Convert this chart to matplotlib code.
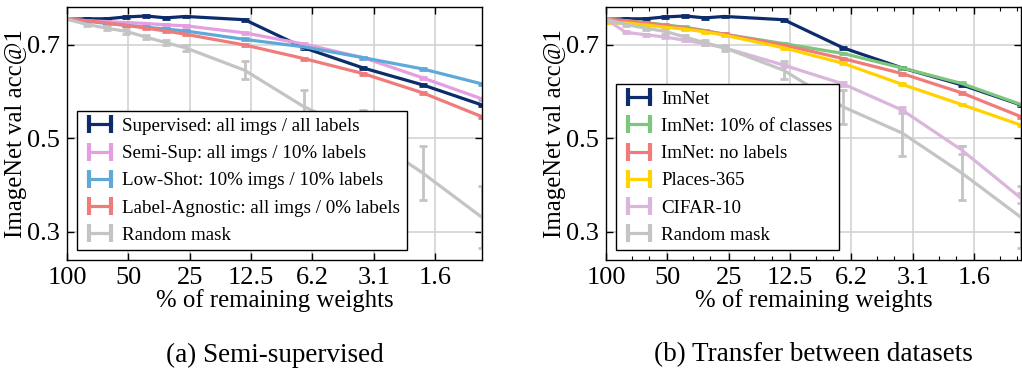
import numpy as np
import matplotlib
matplotlib.use("Agg")
import matplotlib.pyplot as plt
from matplotlib.ticker import FixedLocator, NullFormatter
from matplotlib.lines import Line2D

plt.rcParams['font.family'] = ['Liberation Serif', 'DejaVu Serif']
plt.rcParams['mathtext.fontset'] = 'stix'

# % of remaining weights at each pruning round
pct = [100, 80, 64, 51.2, 40.96, 32.77, 26.21, 13.42, 6.87, 3.52, 1.80, 0.92]

sup = [0.754, 0.755, 0.755, 0.759, 0.761, 0.757, 0.760, 0.753, 0.693, 0.650, 0.614, 0.571]
semi = [0.754, 0.751, 0.749, 0.747, 0.745, 0.742, 0.740, 0.725, 0.701, 0.672, 0.629, 0.584]
low = [0.754, 0.750, 0.745, 0.741, 0.737, 0.733, 0.729, 0.711, 0.695, 0.672, 0.648, 0.616]
agn = [0.754, 0.751, 0.746, 0.741, 0.735, 0.729, 0.722, 0.699, 0.670, 0.638, 0.597, 0.546]
rnd = [0.754, 0.743, 0.735, 0.728, 0.716, 0.704, 0.693, 0.645, 0.567, 0.511, 0.426, 0.331]
rnd_err = [0.0, 0.003, 0.004, 0.005, 0.005, 0.006, 0.007, 0.019, 0.037, 0.049, 0.058, 0.066]

cls10 = [0.754, 0.751, 0.747, 0.742, 0.737, 0.730, 0.722, 0.702, 0.681, 0.650, 0.617, 0.572]
places = [0.745, 0.746, 0.742, 0.737, 0.733, 0.727, 0.720, 0.693, 0.660, 0.615, 0.572, 0.528]
cifar = [0.754, 0.726, 0.721, 0.716, 0.709, 0.702, 0.693, 0.656, 0.616, 0.560, 0.475, 0.372]
cifar_err = [0.0, 0.002, 0.002, 0.002, 0.002, 0.002, 0.003, 0.003, 0.004, 0.006, 0.008, 0.010]

small_err = [0.0, 0.002, 0.002, 0.002, 0.002, 0.002, 0.002, 0.002, 0.002, 0.002, 0.002, 0.002]

tick_pos = [100, 50, 25, 12.5, 6.25, 3.125, 1.5625]
tick_lab = ['100', '50', '25', '12.5', '6.2', '3.1', '1.6']

left_series = [
    (sup, small_err, '#0d2c6c', 'Supervised: all imgs / all labels'),
    (semi, small_err, '#e39fe0', 'Semi-Sup: all imgs / 10% labels'),
    (low, small_err, '#5fa9d8', 'Low-Shot: 10% imgs / 10% labels'),
    (agn, small_err, '#f07b7b', 'Label-Agnostic: all imgs / 0% labels'),
    (rnd, rnd_err, '#c4c4c4', 'Random mask'),
]
right_series = [
    (sup, small_err, '#0d2c6c', 'ImNet'),
    (cls10, small_err, '#7cc77c', 'ImNet: 10% of classes'),
    (agn, small_err, '#f07b7b', 'ImNet: no labels'),
    (places, small_err, '#ffd200', 'Places-365'),
    (cifar, cifar_err, '#dab6dc', 'CIFAR-10'),
    (rnd, rnd_err, '#c4c4c4', 'Random mask'),
]

fig = plt.figure(figsize=(10.22, 3.73), dpi=100)
ax1 = fig.add_axes([0.0656, 0.303, 0.406, 0.678])
ax2 = fig.add_axes([0.593, 0.303, 0.406, 0.678])


def draw(ax, series, minor):
    handles = []
    for y, e, c, lab in series:
        ax.errorbar(pct, y, yerr=e, color=c, lw=2.3, capsize=3, capthick=2,
                    elinewidth=2)
        handles.append(Line2D([], [], color=c, lw=2.3, marker='|',
                              markersize=13, markeredgewidth=3, label=lab))
    ax.set_xscale('log', base=2)
    ax.set_xlim(100, 0.92)
    ax.set_ylim(0.24, 0.78)
    ax.xaxis.set_major_locator(FixedLocator(tick_pos))
    ax.set_xticklabels(tick_lab)
    if minor:
        mpos = []
        for t in tick_pos:
            mpos += [t * 2 ** -0.42, t * 2 ** -0.70]
        ax.xaxis.set_minor_locator(FixedLocator(mpos))
    else:
        ax.xaxis.set_minor_locator(FixedLocator([]))
    ax.xaxis.set_minor_formatter(NullFormatter())
    ax.set_yticks([0.3, 0.5, 0.7])
    ax.set_yticklabels(['0.3', '0.5', '0.7'])
    ax.grid(True, which='major', color='#d0d0d0', lw=1.1)
    ax.set_axisbelow(True)
    ax.tick_params(which='both', direction='in', top=True, right=True,
                   labelsize=19, pad=5)
    ax.tick_params(which='major', length=5, width=1)
    ax.tick_params(which='minor', length=3, width=0.8)
    for s in ax.spines.values():
        s.set_linewidth(1.0)
    ax.set_xlabel('% of remaining weights', fontsize=17.8, labelpad=0)
    ax.set_ylabel('ImageNet val acc@1', fontsize=17.8, labelpad=0)
    leg = ax.legend(handles=handles, loc='lower left', fontsize=13.7,
                    fancybox=False, edgecolor='black', framealpha=1,
                    handlelength=1.75, handletextpad=0.3, labelspacing=0.52,
                    borderpad=0.35, numpoints=2)
    leg.get_frame().set_linewidth(1.0)


draw(ax1, left_series, False)
draw(ax2, right_series, True)

fig.text(0.2685, 0.048, '(a) Semi-supervised', ha='center', va='center', fontsize=19.5)
fig.text(0.796, 0.048, '(b) Transfer between datasets', ha='center', va='center', fontsize=19.5)

fig.savefig('out.png', dpi=100)
